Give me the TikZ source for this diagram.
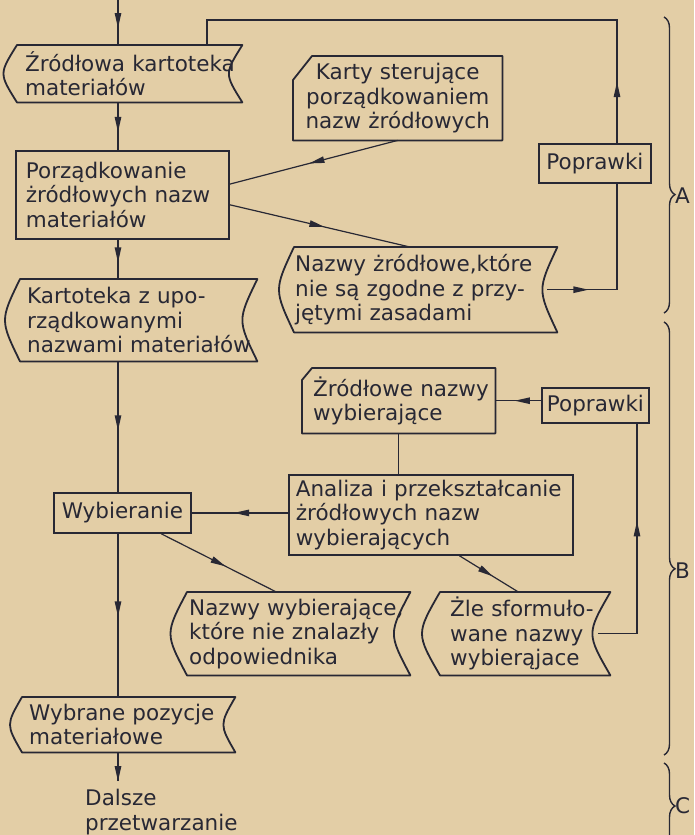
\documentclass[tikz,border=0pt]{standalone}
\usepackage{fontspec}
\setmainfont{DejaVu Sans}
\usetikzlibrary{decorations.markings,decorations.pathreplacing,calc}
\definecolor{paper}{RGB}{227,206,166}
\definecolor{ink}{RGB}{40,40,52}
\newcommand\sdraw[2]{\draw[outline] (#1.north west) -- (#1.north east) .. controls ($(#1.east)+(-2*#2,0)$) .. (#1.south east) -- (#1.south west) .. controls ($(#1.west)+(-2*#2,0)$) .. cycle;}
\newcommand\cdraw[3]{\draw[outline] (#1.north east) -- ($(#1.north west)+(#2,0)$) -- ($(#1.north west)+(0,#3)$) -- (#1.south west) -- (#1.south east) -- cycle;}
\newcommand\mb[1]{\mbox{#1}}
\begin{document}
\begin{tikzpicture}[x=1pt,y=-1pt,
  every node/.style={font=\fontsize{21.5}{24.5}\selectfont, text=ink},
  blk/.style={rectangle, inner ysep=0pt, align=left, anchor=north west},
  rbox/.style={blk, draw=ink, line width=1.8pt},
  outline/.style={draw=ink, line width=1.8pt, line join=round},
  conn/.style={draw=ink, line width=1.2pt},
  ar/.style={postaction={decorate}, decoration={markings, mark=at position #1 with {\fill[ink] (1pt,0pt) -- (-14pt,3.4pt) -- (-14pt,-3.4pt) -- cycle;}}},
  brc/.style={draw=ink, line width=1.4pt, decorate},
  lbl/.style={anchor=west, inner sep=0pt}]
\useasboundingbox (0,0) rectangle (694,835);
\fill[paper] (0,0) rectangle (694,835);

\coordinate (mx) at (118,0);
\coordinate (lx) at (617,0);
\coordinate (ty) at (0,20);
\coordinate (sx) at (207,0);
\coordinate (rx) at (637,0);

% nodes
\node[blk, minimum width=225pt, minimum height=57pt, inner xsep=8pt, text width=209pt] (src) at (17,45) {\mb{Źródłowa kartoteka}\\\mb{materiałów}};
\node[rbox, minimum width=213pt, minimum height=88pt, inner xsep=10pt, text width=193pt] (por) at (15,150) {\mb{Porządkowanie}\\\mb{żródłowych nazw}\\\mb{materiałów}};
\node[blk, align=center, minimum width=209pt, minimum height=84pt, inner xsep=6pt, text width=197pt] (karty) at (293,56) {\mb{Karty sterujące}\\\mb{porządkowaniem}\\\mb{nazw żródłowych}};
\node[rbox, align=center, minimum width=112pt, minimum height=39pt, inner xsep=4pt, text width=104pt] (popA) at (538,143) {Poprawki};
\node[blk, minimum width=263pt, minimum height=85pt, inner xsep=1pt, text width=261pt] (nzr) at (294,247) {\mb{Nazwy żródłowe,które}\\\mb{nie są zgodne z przy-}\\\mb{jętymi zasadami}};
\node[blk, minimum width=237pt, minimum height=82pt, inner xsep=7pt, text width=223pt] (kup) at (20,279) {\mb{Kartoteka z upo-}\\\mb{rządkowanymi}\\\mb{nazwami materiałów}};
\node[blk, minimum width=193pt, minimum height=65pt, inner xsep=11pt, text width=171pt] (zna) at (302,368) {\mb{Żródłowe nazwy}\\\mb{wybierające}};
\node[rbox, align=center, minimum width=107pt, minimum height=35pt, inner xsep=3pt, text width=101pt] (popB) at (541,387) {Poprawki};
\node[rbox, minimum width=284pt, minimum height=80pt, inner xsep=7pt, text width=270pt] (ana) at (288,474) {\mb{Analiza i przekształcanie}\\\mb{żródłowych nazw}\\\mb{wybierających}};
\node[rbox, align=center, minimum width=137pt, minimum height=40pt, inner xsep=3pt, text width=131pt] (wyb) at (53,492) {Wybieranie};
\node[blk, minimum width=223pt, minimum height=83pt, inner xsep=2pt, text width=219pt] (nwb) at (187,592) {\mb{Nazwy wybierające,}\\\mb{które nie znalazły}\\\mb{odpowiednika}};
\node[blk, minimum width=170pt, minimum height=83pt, inner xsep=10pt, text width=150pt] (zle) at (440,592) {\mb{Żle sformuło-}\\\mb{wane nazwy}\\\mb{wybierąjace}};
\node[blk, minimum width=213pt, minimum height=55pt, inner xsep=7pt, text width=199pt] (wpm) at (22,697) {\mb{Wybrane pozycje}\\\mb{materiałowe}};
\node[blk, inner xsep=0pt, text width=170pt] (dal) at (85,789) {\mb{Dalsze}\\\mb{przetwarzanie}};

% outlines
\sdraw{src}{9}
\cdraw{karty}{19}{24}
\sdraw{nzr}{10}
\sdraw{kup}{10}
\cdraw{zna}{10}{12}
\sdraw{nwb}{11}
\sdraw{zle}{12}
\sdraw{wpm}{8}

% connectors
\draw[conn, ar=0.6] (mx) -- (src.north -| mx);
\draw[conn, ar=0.6] (src.south -| mx) -- (por.north -| mx);
\draw[conn, ar=40pt] ($(nzr.east)+(-10,0)$) -| (popA.south -| lx);
\draw[conn, ar=60pt] (popA.north -| lx) |- (ty -| sx) -- (src.north -| sx);
\draw[conn, ar=0.52] (karty.south) -- ($(por.north east)!0.38!(por.south east)$);
\draw[conn, ar=0.52] ($(por.north east)!0.61!(por.south east)$) -- ($(nzr.north west)!0.44!(nzr.north east)$);
\draw[conn, ar=0.55] (por.south -| mx) -- (kup.north -| mx);
\draw[conn, ar=0.52] (kup.south -| mx) -- (wyb.north -| mx);
\draw[conn, ar=0.55] (ana.west |- wyb.east) -- (wyb.east);
\draw[conn, ar=0.55] ($(wyb.south west)!0.78!(wyb.south east)$) -- ($(nwb.north west)!0.4!(nwb.north east)$);
\draw[conn, ar=0.5] (wyb.south -| mx) -- (wpm.north -| mx);
\draw[conn, ar=0.97] (wpm.south -| mx) -- ($(dal.north -| mx)+(0,-8)$);
\draw[conn] (zna.south) -- (zna.south |- ana.north);
\draw[conn, ar=0.55] (popB.west |- zna.east) -- (zna.east);
\draw[conn, ar=0.55] ($(ana.south west)!0.6!(ana.south east)$) -- ($(zle.north west)!0.46!(zle.north east)$);
\draw[conn, ar=150pt] ($(zle.east)+(-12,0)$) -| (popB.south -| rx);

% braces
\draw[brc, decoration={brace, amplitude=11pt, aspect=0.6}] (664,17) -- (664,313);
\draw[brc, decoration={brace, amplitude=11pt, aspect=0.57}] (664,322) -- (664,755);
\draw[brc, decoration={brace, amplitude=11pt, aspect=0.5}] (664,763) -- (664,849);
\node[lbl] (la) at (675,196) {A};
\node[lbl] (lb) at (675,571) {B};
\node[lbl] (lc) at (675,806) {C};
\end{tikzpicture}
\end{document}
